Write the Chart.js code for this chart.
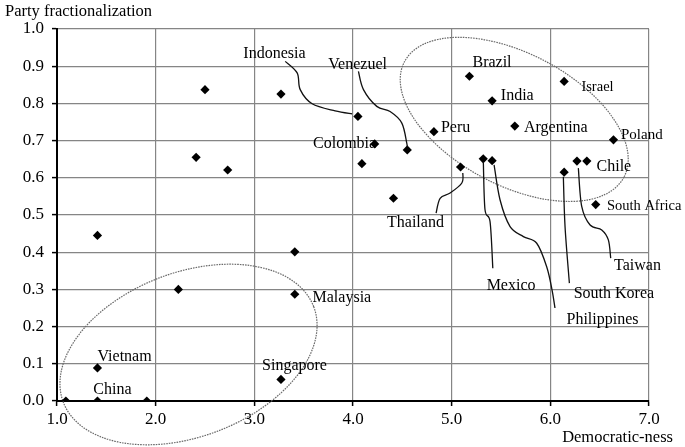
<!DOCTYPE html>
<html>
<head>
<meta charset="utf-8">
<script src="https://cdn.jsdelivr.net/npm/chart.js@4.4.1/dist/chart.umd.min.js"></script>
<style>
  html, body { margin: 0; padding: 0; background: #fff; }
  canvas { display: block; }
</style>
</head>
<body>
<canvas id="c" width="685" height="447"></canvas>
<script>
// ---- Data ----
const democraticNess = [1.09, 1.41, 1.91, 1.41, 1.41, 2.23, 2.41, 2.50, 2.73, 3.27, 3.27, 3.41, 3.41,
  4.05, 4.09, 4.22, 4.41, 4.55, 4.82, 5.09, 5.18, 5.32, 5.41, 5.41, 5.64, 6.14, 6.14, 6.27, 6.37, 6.46, 6.64];
const partyFractionalization = [0.000, 0.000, 0.000, 0.089, 0.445, 0.300, 0.655, 0.837, 0.621, 0.825, 0.058, 0.401, 0.287,
  0.765, 0.638, 0.691, 0.545, 0.675, 0.724, 0.629, 0.873, 0.651, 0.807, 0.646, 0.739, 0.859, 0.615, 0.645, 0.645, 0.528, 0.702];
const countryNames = ['', 'China', '', 'Vietnam', '', '', '', '', '', '', 'Singapore', '', 'Malaysia',
  'Indonesia', '', 'Colombia', '', 'Venezuel', 'Peru', 'Thailand', 'Brazil', 'Mexico', 'India', 'Philippines', 'Argentina',
  'Israel', 'South Korea', 'Taiwan', 'Chile', 'South Africa', 'Poland'];
const xTickLabels = ['1.0', '2.0', '3.0', '4.0', '5.0', '6.0', '7.0'];
const yTickLabels = ['0.0', '0.1', '0.2', '0.3', '0.4', '0.5', '0.6', '0.7', '0.8', '0.9', '1.0'];
const xTitle = 'Democratic-ness';
const yTitle = 'Party fractionalization';

// ---- Annotation layout (label anchors in data units) ----
const labelPlacement = {
  'China':        { x: 1.562, y: 0.030 },
  'Vietnam':      { x: 1.685, y: 0.119 },
  'Singapore':    { x: 3.407, y: 0.094 },
  'Malaysia':     { x: 3.887, y: 0.278 },
  'Indonesia':    { x: 3.204, y: 0.934 },
  'Colombia':     { x: 3.915, y: 0.691 },
  'Venezuel':     { x: 4.047, y: 0.904 },
  'Peru':         { x: 5.040, y: 0.735 },
  'Thailand':     { x: 4.633, y: 0.478 },
  'Brazil':       { x: 5.409, y: 0.908 },
  'Mexico':       { x: 5.602, y: 0.310 },
  'India':        { x: 5.665, y: 0.821 },
  'Philippines':  { x: 6.529, y: 0.218 },
  'Argentina':    { x: 6.056, y: 0.735 },
  'Israel':       { x: 6.478, y: 0.844, size: 14.5 },
  'South Korea':  { x: 6.644, y: 0.288 },
  'Taiwan':       { x: 6.883, y: 0.363 },
  'Chile':        { x: 6.644, y: 0.629 },
  'South Africa': { x: 6.951, y: 0.523, size: 14.5 },
  'Poland':       { x: 6.927, y: 0.714, size: 15 }
};
const leaderPaths = [
  [[3.313, 0.913], [3.434, 0.882], [3.465, 0.837], [3.586, 0.799], [3.819, 0.780], [3.991, 0.772]],
  [[4.055, 0.886], [4.106, 0.837], [4.241, 0.792], [4.376, 0.778], [4.495, 0.747], [4.545, 0.693], [4.548, 0.683]],
  [[5.113, 0.613], [5.103, 0.586], [4.984, 0.559], [4.883, 0.545], [4.842, 0.505]],
  [[5.321, 0.643], [5.338, 0.514], [5.389, 0.482], [5.417, 0.357]],
  [[5.430, 0.635], [5.490, 0.541], [5.592, 0.469], [5.727, 0.442], [5.862, 0.424], [5.963, 0.361], [6.017, 0.299], [6.047, 0.250]],
  [[6.132, 0.603], [6.149, 0.469], [6.193, 0.317]],
  [[6.284, 0.626], [6.318, 0.523], [6.403, 0.473], [6.521, 0.460], [6.588, 0.433], [6.612, 0.384]]
];
const groupEllipses = [
  { cx: 5.634, cy: 0.757, rx: 124, ry: 66, angleDeg: 27.7 },
  { cx: 2.333, cy: 0.125, rx: 134, ry: 82, angleDeg: -20.9 }
];

const FONT = "'Liberation Serif', 'Times New Roman', serif";

function smoothPath(ctx, pts) {
  ctx.beginPath();
  ctx.moveTo(pts[0][0], pts[0][1]);
  for (let i = 0; i < pts.length - 1; i++) {
    const p0 = pts[i - 1] || pts[i];
    const p1 = pts[i];
    const p2 = pts[i + 1];
    const p3 = pts[i + 2] || p2;
    const c1x = p1[0] + (p2[0] - p0[0]) / 6, c1y = p1[1] + (p2[1] - p0[1]) / 6;
    const c2x = p2[0] - (p3[0] - p1[0]) / 6, c2y = p2[1] - (p3[1] - p1[1]) / 6;
    ctx.bezierCurveTo(c1x, c1y, c2x, c2y, p2[0], p2[1]);
  }
  ctx.stroke();
}

const annotationPlugin = {
  id: 'annotations',
  beforeDatasetsDraw(chart) {
    const { ctx, scales: { x, y } } = chart;
    ctx.save();
    ctx.strokeStyle = '#6a6a6a';
    ctx.lineWidth = 1.2;
    ctx.setLineDash([1.6, 1]);
    groupEllipses.forEach(e => {
      ctx.beginPath();
      ctx.ellipse(x.getPixelForValue(e.cx), y.getPixelForValue(e.cy), e.rx, e.ry, e.angleDeg * Math.PI / 180, 0, Math.PI * 2);
      ctx.stroke();
    });
    ctx.restore();
  },
  afterDatasetsDraw(chart) {
    const { ctx, scales: { x, y } } = chart;
    ctx.save();
    ctx.strokeStyle = '#111';
    ctx.lineWidth = 1.3;
    leaderPaths.forEach(path => {
      smoothPath(ctx, path.map(p => [x.getPixelForValue(p[0]), y.getPixelForValue(p[1])]));
    });
    ctx.fillStyle = '#000';
    ctx.textAlign = 'center';
    ctx.textBaseline = 'middle';
    countryNames.forEach(name => {
      if (!name) return;
      const lp = labelPlacement[name];
      ctx.font = (lp.size || 16) + 'px ' + FONT;
      ctx.fillText(name, x.getPixelForValue(lp.x), y.getPixelForValue(lp.y));
    });
    ctx.font = '16.5px ' + FONT;
    ctx.textAlign = 'left';
    ctx.fillText(yTitle, 5, 12);
    ctx.textAlign = 'right';
    ctx.fillText(xTitle, 673, 438);
    ctx.restore();
  }
};

const points = democraticNess.map((d, i) => ({ x: d, y: partyFractionalization[i] }));

new Chart(document.getElementById('c'), {
  type: 'scatter',
  data: {
    datasets: [{
      data: points,
      pointStyle: 'rectRot',
      pointRadius: 4.6,
      backgroundColor: '#000',
      borderColor: '#000',
      borderWidth: 0
    }]
  },
  options: {
    responsive: false,
    animation: false,
    layout: { padding: { left: 0, right: 36, top: 29, bottom: 0 } },
    plugins: { legend: { display: false }, tooltip: { enabled: false } },
    scales: {
      x: {
        type: 'linear', min: 1, max: 7,
        afterFit: s => { s.height = 46; },
        ticks: {
          stepSize: 1, maxRotation: 0, autoSkip: false, padding: 3,
          color: '#000', font: { family: FONT, size: 17 },
          callback: (v) => xTickLabels[Math.round(v - 1)]
        },
        grid: { color: '#858585', lineWidth: 1.2, tickColor: '#000', tickLength: 5, tickWidth: 1.5 },
        border: { color: '#000', width: 2 }
      },
      y: {
        type: 'linear', min: 0, max: 1,
        afterFit: s => { s.width = 57; },
        ticks: {
          stepSize: 0.1, autoSkip: false, padding: 8,
          color: '#000', font: { family: FONT, size: 17 },
          callback: (v) => yTickLabels[Math.round(v * 10)]
        },
        grid: { color: '#858585', lineWidth: 1.2, tickColor: '#000', tickLength: 5, tickWidth: 1.5 },
        border: { color: '#000', width: 2 }
      }
    }
  },
  plugins: [annotationPlugin]
});
</script>
</body>
</html>
